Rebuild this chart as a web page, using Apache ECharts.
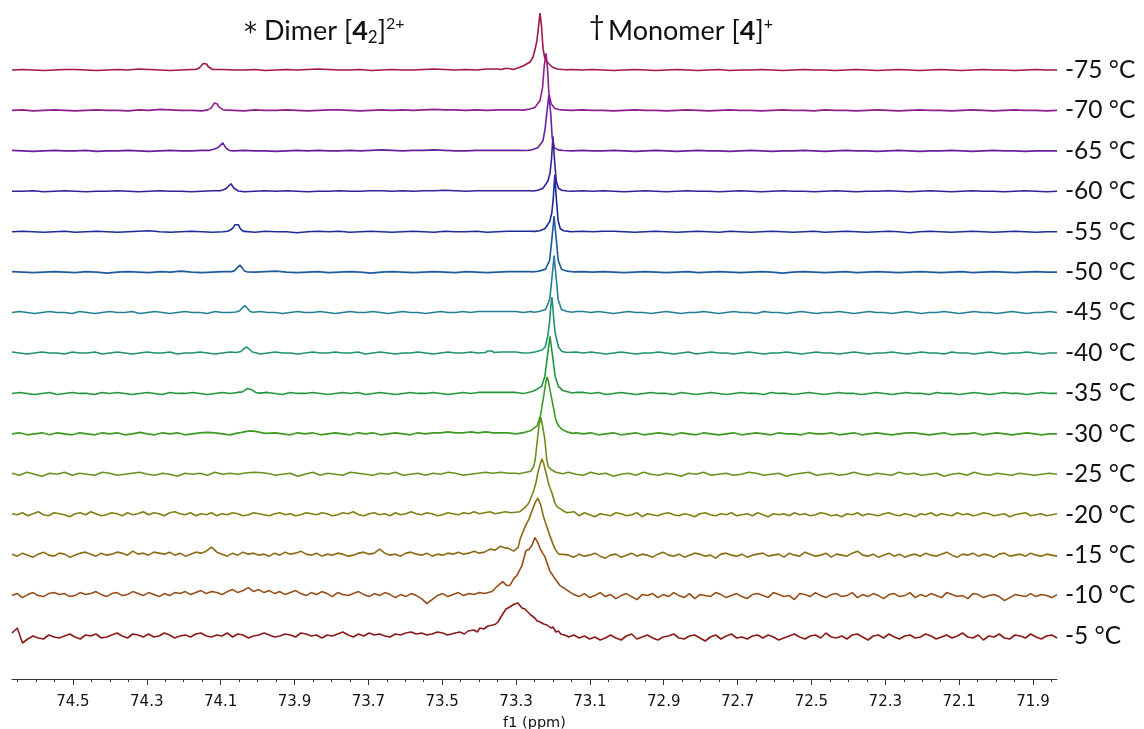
<!DOCTYPE html>
<html>
<head>
<meta charset="utf-8">
<script src="https://cdn.jsdelivr.net/npm/echarts@6/dist/echarts.min.js"></script>
<style>
  html, body { margin: 0; padding: 0; background: #ffffff; overflow: hidden; }
  #chart { width: 1144px; height: 729px; }
</style>
</head>
<body>
<div id="chart"></div>
<script>
// Variable-temperature NMR stack: traces listed from the warmest (-5 °C, bottom) to the coldest (-75 °C, top)
const temps = ['-5 °C', '-10 °C', '-15 °C', '-20 °C', '-25 °C', '-30 °C', '-35 °C', '-40 °C',
               '-45 °C', '-50 °C', '-55 °C', '-60 °C', '-65 °C', '-70 °C', '-75 °C'];

// chemical-shift window (ppm)
const ppmMin = 71.835;
const ppmMax = 74.665;

// labelled axis ticks (ppm)
const majorTicks = [74.5, 74.3, 74.1, 73.9, 73.7, 73.5, 73.3, 73.1, 72.9, 72.7, 72.5, 72.3, 72.1, 71.9];

// monomer [4]+ resonance position per trace (ppm)
const monoCenter = [73.295, 73.249, 73.241, 73.230, 73.233, 73.216, 73.208, 73.203,
                    73.197, 73.197, 73.195, 73.200, 73.211, 73.219, 73.235];
// dimer [4_2]2+ resonance position per trace (ppm), absent in the warm traces
const dimerCenter = [null, null, null, null, 74.007, 74.018, 74.023, 74.029,
                     74.034, 74.048, 74.056, 74.072, 74.094, 74.113, 74.142];

// monomer line shapes: [offset from centre (ppm), intensity]
const mono_m5 = [[0.190,1],[0.170,3],[0.157,4],[0.145,2],[0.135,5],[0.119,6],[0.110,4],[0.103,8],[0.092,7],[0.081,10],[0.068,11],[0.060,12],[0.054,14],[0.049,16],[0.041,22],[0.032,27],[0.022,29],[0.014,31],[0.008,32],[0,33],[-0.005,31],[-0.011,28],[-0.019,27],[-0.027,24],[-0.035,21],[-0.046,18],[-0.052,15],[-0.060,14],[-0.070,12],[-0.079,11],[-0.089,8],[-0.095,9],[-0.103,4],[-0.110,5],[-0.116,2],[-0.130,0.5]];
const mono_m10 = [[0.135,1],[0.116,4],[0.103,9],[0.087,14],[0.076,10],[0.068,10],[0.057,17],[0.049,20],[0.035,30],[0.024,45],[0.016,46],[0.008,50],[0,58],[-0.008,53],[-0.014,47],[-0.022,42],[-0.027,39],[-0.032,40],[-0.041,24],[-0.049,20],[-0.054,17],[-0.068,10],[-0.081,7],[-0.097,3]];
const mono_m15 = [[0.081,7],[0.065,4],[0.053,8],[0.048,16],[0.034,29],[0.024,36],[0.016,44],[0.008,52],[0,57],[-0.008,50],[-0.015,39],[-0.024,29],[-0.033,19],[-0.041,11],[-0.047,6],[-0.056,1],[-0.076,0.5]];
const mono_m20 = [[0.081,1],[0.060,3],[0.046,7],[0.035,12],[0.024,22],[0.016,32],[0.011,42],[0.005,50],[0,56],[-0.005,51],[-0.011,42],[-0.019,30],[-0.027,22],[-0.035,12],[-0.041,8],[-0.049,6],[-0.057,4],[-0.068,2]];
const mono_m25 = [[0.060,0.5],[0.046,1.5],[0.027,3],[0.019,8],[0.015,15],[0.009,35],[0.005,48],[0,57],[-0.005,48],[-0.011,35],[-0.016,15],[-0.020,8],[-0.027,5],[-0.041,2],[-0.060,0.5]];
const mono_m30 = [[0.076,0.5],[0.060,1.5],[0.045,3],[0.027,8],[0.018,18],[0.009,38],[0.004,50],[0,57],[-0.004,52],[-0.009,42],[-0.018,25],[-0.023,15],[-0.031,8],[-0.042,4],[-0.054,2],[-0.070,0.5]];
const mono_m35 = [[0.065,0.5],[0.049,2],[0.036,4],[0.023,7],[0.014,17],[0.007,37],[0,57],[-0.007,37],[-0.014,17],[-0.023,7],[-0.034,3],[-0.045,2],[-0.060,0.5]];
const mono_m40 = [[0.060,0.3],[0.046,1],[0.027,3],[0.018,6],[0.011,17],[0.006,32],[0.003,46],[0,56],[-0.003,44],[-0.006,30],[-0.009,20],[-0.018,6],[-0.027,1.5],[-0.041,0.5]];
const mono_m45 = [[0.054,0.3],[0.041,1],[0.023,3],[0.012,13],[0.007,30],[0.003,45],[0,57],[-0.003,45],[-0.007,30],[-0.011,13],[-0.020,3],[-0.035,1],[-0.050,0.3]];
const mono_m50 = [[0.054,0.3],[0.041,1],[0.023,3],[0.012,12],[0.007,29],[0.003,44],[0,56],[-0.003,44],[-0.007,29],[-0.011,12],[-0.020,3],[-0.035,1],[-0.050,0.3]];
const mono_m55 = [[0.054,0.3],[0.041,1],[0.027,3],[0.014,10],[0.008,19],[0.004,34],[0,57],[-0.004,34],[-0.009,11],[-0.015,3],[-0.024,1],[-0.038,0.3]];
const mono_m60 = [[0.054,0.3],[0.041,1],[0.027,3],[0.014,10],[0.008,18],[0.004,32],[0,55],[-0.004,32],[-0.009,10],[-0.015,3],[-0.024,1],[-0.038,0.3]];
const mono_m65 = [[0.060,0.3],[0.046,1],[0.030,3],[0.016,10],[0.010,23],[0.005,40],[0,56],[-0.005,37],[-0.009,13],[-0.015,3],[-0.025,1],[-0.040,0.3]];
const mono_m70 = [[0.060,0.3],[0.049,1],[0.030,3],[0.016,10],[0.009,23],[0.005,43],[0,57],[-0.004,43],[-0.008,17],[-0.014,7],[-0.024,2],[-0.040,0.5]];
const mono_m75 = [[0.081,0.5],[0.060,2],[0.046,4],[0.027,8],[0.019,13],[0.014,20],[0.009,28],[0.005,40],[0,57],[-0.004,44],[-0.008,22],[-0.012,13],[-0.019,8],[-0.033,3],[-0.046,1],[-0.068,0.3]];

// dimer line shapes: [offset from centre (ppm), intensity]
const dimer_m25 = [[0.040,0.5],[0.020,1.5],[0,2],[-0.020,1.5],[-0.040,0.5]];
const dimer_m30 = [[0.040,0.5],[0.025,1.5],[0.012,2.5],[0,3],[-0.012,2.5],[-0.025,1.5],[-0.040,0.5]];
const dimer_m35 = [[0.030,0.5],[0.018,1.5],[0.010,3.5],[0.004,5],[0,5],[-0.005,4],[-0.010,2.5],[-0.018,1],[-0.028,0.3]];
const dimer_m40 = [[0.028,0.5],[0.016,1.5],[0.009,4],[0.004,5.5],[0,6],[-0.004,5],[-0.009,3],[-0.015,1],[-0.024,0.3]];
const dimer_m45 = [[0.025,0.5],[0.015,1.5],[0.008,4.5],[0.004,6.5],[0,7],[-0.004,6],[-0.008,3.5],[-0.014,1],[-0.022,0.3]];
const dimer_m50 = [[0.022,0.5],[0.014,1.5],[0.008,4],[0.004,6],[0,7],[-0.004,6],[-0.008,3.5],[-0.013,1],[-0.020,0.3]];
const dimer_m55 = [[0.025,0.5],[0.016,2],[0.010,4],[0.005,7],[0,9],[-0.004,7],[-0.008,4],[-0.013,1.5],[-0.020,0.3]];
const dimer_m60 = [[0.030,0.5],[0.020,1.5],[0.012,3],[0.006,5.5],[0,7.5],[-0.004,6],[-0.008,3],[-0.013,1],[-0.020,0.3]];
const dimer_m65 = [[0.035,0.5],[0.025,1.5],[0.014,3],[0.008,5],[0.004,7],[0,8],[-0.004,6],[-0.008,3],[-0.012,1],[-0.018,0.3]];
const dimer_m70 = [[0.022,0.5],[0.014,2],[0.008,5],[0.004,7.5],[0,8],[-0.004,6.5],[-0.008,3.5],[-0.013,1.5],[-0.020,0.5]];
const dimer_m75 = [[0.025,0.5],[0.016,2],[0.010,4.5],[0.005,6.5],[0,7],[-0.004,6],[-0.008,3.5],[-0.013,1.5],[-0.020,0.5]];

// small extra signals: [ppm, intensity]
const extra_m40 = [[73.383,0.5],[73.376,2],[73.371,3],[73.366,2],[73.359,0.5]];
const extra_m75 = [[73.340,0.5],[73.330,1.5],[73.325,2],[73.318,1.5],[73.308,0.5]];

// baseline noise, evenly spread from ppmMax down to ppmMin
const noise_m5 = [3,8,-7,-3,0,-2,-3,1,-1,-2, 0,2,-1,-3,1,0,2,-2,-1,1, 3,0,-2,2,1,-1,2,-1,0,3, 1,-2,0,1,-1,2,3,0,-1,1,
  0,3,-1,2,1,-2,0,1,3,1, -1,0,2,1,-1,3,2,0,1,-2, 1,0,2,4,1,-1,2,0,3,1, 2,0,-1,2,1,3,4,2,3,1, 2,4,3,
  3,2,3,4,2,3,2,1,2,1,0,1,0,-1,0,1,0,-1,0,1,0,-1,0,
  -1,1,-2,0,-3,-1,-4,-2,1,-2, -4,0,2,-3,-1,1,-2,-4,-1,0, 2,-2,-3,0,1,-2,-5,-1,1,-3, 0,2,-2,-1,-3,0,1,-2,1,-1,
  -4,-2,0,2,-1,-3,0,1,-2,3, -1,-2,0,-3,1,2,-1,-4,0,1, -2,2,-1,-3,0,1,-2,-1,2,0, -3,-1,1,-2,0,3,-1,-2,1,-4,
  0,-1,2,-2,-3,1,0,-2,2,-1, -3,0,1,-2];
const noise_m10 = [0,2,-2,1,3,0,-1,2,3,1, 2,-1,0,3,1,2,4,1,-1,2, 3,0,1,4,2,0,3,1,-1,2, 0,3,2,4,1,3,5,2,4,3,
  1,4,6,3,5,8,4,6,3,5, 2,4,1,3,5,2,0,3,1,4, 2,-1,3,1,0,2,4,1,-1,2, 0,3,1,-2,1,-1,2,0,-3,-8, -4,0,2,-1,1,3,0,2,1,3,
  2,1,2,0,1,2,0,1,0,-1,0,1,0,-1,0,1,0,
  1,-1,2,-2,0,3,-1,1,-3,0, 2,-1,-4,1,0,2,-2,1,-1,3, 0,-2,2,-3,1,0,-1,3,1,-2, 0,2,-1,-3,1,2,0,-2,3,1,
  -1,0,-4,2,1,-1,3,0,-2,1, 2,-1,0,3,-2,1,-1,2,0,-3, 1,2,-1,0,3,-2,1,-1,2,0, -2,3,1,-1,0,-3,2,1,-2,0,
  1,-1,-5,-2,1,0,-1,2,-1,1, 0,-2,1];
const noise_m15 = [1,-1,2,0,-2,1,3,0,-1,2, 1,-2,0,2,3,1,-1,2,0,1, 3,2,0,4,1,2,0,3,2,1, 3,0,2,-1,1,3,2,4,8,3,
  1,-1,2,0,3,1,2,0,1,-1, 2,0,3,1,2,4,1,0,2,-1, 1,0,2,1,-1,0,2,3,1,2, 6,2,0,1,-1,2,3,1,0,2, -1,1,0,2,1,3,1,2,4,2, 3,6,5,9,7,
  6,5,4,3,2,1,0,1,0,1,0,
  0,-2,1,-1,0,2,-1,-3,0,1, -2,0,2,-1,1,0,-2,1,3,0, -1,1,-2,0,2,1,-1,0,-3,1, 2,0,-1,1,-2,0,1,2,-1,0,
  1,-2,2,0,-1,3,1,-1,0,2, -2,1,0,-1,2,4,0,-1,1,-2, 0,2,-1,1,-2,0,1,-1,2,0, -1,1,3,0,-2,1,0,2,-1,1,
  0,-2,1,2,-1,0,1,-1,2,0, -1,1,0,-1];
const noise_m20 = [1,0,2,-1,1,3,0,-1,2,1, 0,-2,1,2,0,3,1,-1,0,2, 1,-1,2,0,1,3,0,2,1,-1, 2,3,1,0,2,-1,1,0,2,-1,
  1,0,2,1,-1,0,2,1,0,-1, 1,2,0,1,-1,0,2,1,0,2, 1,-1,0,2,1,3,0,-1,1,2, 0,1,-1,2,0,1,3,1,0,2, 1,-1,0,2,1,0,2,1,3,1, 2,3,1,2,3,2,
  2,1,0,1,2,1,0,1,0,1,
  1,3,-1,2,0,-2,1,0,-1,2, 1,-1,0,2,-2,1,0,-1,1,2, 0,-1,1,0,-2,1,2,0,-1,1, 0,2,-1,0,1,-1,2,0,-2,1,
  0,1,-1,2,0,1,-1,0,2,1, -1,0,-2,1,0,2,-1,1,0,-1, 1,2,0,-1,1,0,-2,1,0,2, -1,1,0,-1,2,0,1,-1,0,2,
  1,-1,0,1,-2,0,1,2,-1,0, 1,-1,0,1];
const noise_m25 = [1,-1,2,0,-2,1,0,2,-1,1, 0,-1,2,1,-1,0,1,2,0,-1, 1,0,-2,1,0,1,-1,2,0,1, 0,2,1,2,1,-1,0,1,-2,0,
  2,-1,1,0,-1,2,1,0,-1,1, 0,2,-1,0,1,-1,1,0,2,1, -1,0,1,2,1,2,1,1,0,1,1,0,1,0,
  2,0,-1,2,0,1,-2,0,1,-1, 2,0,-1,1,0,-2,1,0,2,-1, 0,1,-1,0,2,1,-1,0,1,-2, 0,1,2,-1,0,1,-1,0,2,0,
  -1,1,0,-1,2,0,1,-1,0,1, -2,0,1,-1,2,0,-1,1,0,-1, 1,0,-1,0,1,0];
const noise_m30 = [0,1,-1,0,1,-1,1,0,-1,1, 0,-1,1,0,1,-1,0,1.5,0,-1, 1,0,1,-1,0,1,1.5,1,0,-1, 1,0,1,-1,0,1,0,-1,1,0,
  1,-1,0,1,0,-1,1,0,1,-1, 0,1,0,-1,1,0,1,1,2,1, 1,2,1,2,1,1,1,0,1,0,1,0,1,0,
  2,1,0,1,-1,0,1,-1,0,1, -1,0,1,0,-1,1,0,-1,1,0, -1,0,1,-1,0,1,0,-1,1,0, 0,-1,1,0,0,1,-1,0,1,-1,
  0,1,0,-1,0,1,1,0,-1,0, 1,-1,0,0,1,-1,0,1,0,-1, 0,1,0,-1,0,0];
const noise_m35 = [0,1,0,-1,0,1,-1,0,1,0, 0,-1,1,0,1,0,-1,0,1,0, -1,1,0,0,1,0,-1,0,1,0, 1,-1,0,0,1,0,-1,1,0,0,
  1,0,-1,0,1,0,1,-1,0,1, 0,-1,0,1,0,0,1,0,-1,0, 1,0,1,1,1,1,1,1,0,1,0,1,0,1,
  2,1,1,0,1,-1,0,1,0,-1, 0,1,0,0,-1,1,0,-1,0,1, 0,-1,0,1,0,0,-1,1,0,0, -1,0,1,0,-1,0,1,0,0,-1,
  0,1,0,-1,0,1,0,0,-1,1, 0,0,-1,0,1,0,-1,0,1,0, 0,-1,0,1,0,0];
const noise_m40 = [1,0,-1,0,1,0,0,-1,1,0, 0,1,-1,0,1,0,-1,0,1,0, 0,1,-1,0,0,1,0,-1,0,1, 0,0,1,-1,0,1,0,0,-1,0,
  1,0,0,1,0,0,1,-1,0,1, 0,-1,0,0,1,0,-1,0,1,0, 0,1,0,1,1,1,1,1,0,1,0,1,0,1,
  1,1,0,1,0,-1,0,1,0,-1, 0,0,1,0,-1,0,1,-1,0,1, 0,0,-1,0,1,0,-1,0,0,1, 0,-1,0,1,0,0,-1,0,1,0,
  -1,0,0,1,0,-1,0,1,0,0, -1,1,0,0,-1,0,1,0,-1,0, 0,1,0,-1,0,0];
const noise_m45 = [0,1,0,-1,0,1,0,0,-1,1, 0,-1,0,1,0,0,1,-1,0,1, 0,-1,0,1,0,0,-1,1,0,0, 1,-1,0,1,0,0,-1,0,1,0,
  0,1,0,-1,0,1,0,0,1,0, -1,0,1,0,0,-1,0,1,0,0, 1,0,1,1,1,1,1,1,0,1,0,1,0,1,
  1,1,1,0,1,0,-1,0,1,0, 0,-1,0,1,0,-1,0,0,1,0, -1,0,1,0,0,-1,1,0,0,-1, 0,1,0,-1,0,0,1,0,-1,0,
  1,0,0,-1,0,1,0,-1,0,0, 1,0,-1,0,1,0,0,-1,0,1, 0,-1,0,0,1,0];
const noise_m50 = [0.5,0,-0.5,0,0.5,0,-0.5,0.5,0,-1, 0,0.5,0,-0.5,0.5,0,1,0,-0.5,0, 0.5,0,-0.5,0,0.5,1,0,-0.5,0,0.5,
  -0.5,0,0.5,0,-1,0,0.5,0,-0.5,0, 0.5,0,-0.5,0.5,0,-0.5,0,0.5,0.5,0.5, 0.5,0,0.5,0,0.5,0,0.5,0,-0.5,0,
  0.5,0,-0.5,0,0.5,-0.5,0,0.5,0,-0.5, 0,0.5,0,-1,0,0.5,0,-0.5,0,0.5, -0.5,0,0.5,0,-0.5,0,0.5,0,-0.5,0,
  0.5,-0.5,0,0.5,0,-0.5,0,0.5,0,0];
const noise_m55 = [0,0.5,0,-0.5,0,0.5,-0.5,0,0.5,0, -0.5,0,0.5,1,0,-0.5,0,0.5,0,-0.5, 0,0.5,0,-0.5,0.5,0,0,-1,0,0.5,
  0,0.5,-0.5,0,0.5,0,-0.5,0,0.5,0, -0.5,0.5,0,0,0.5,-0.5,0,0.5,0.5,0.5, 0.5,0,0.5,0,0.5,0,0.5,0.5,0,-0.5,
  0,0.5,0,-0.5,0,0.5,0,-0.5,0.5,0, -0.5,0,0.5,0,-0.5,0,0.5,-0.5,0,0.5, 0,-0.5,0,0.5,0,-1,0,0.5,0,-0.5,
  0,0.5,0,-0.5,0,0.5,0,-0.5,0,0];
const noise_m60 = [0,0,0.5,-0.5,0,0.5,0,-0.5,0,0, 0.5,0,-0.5,0,0.5,0,0,-0.5,0,0.5, 0,0,-0.5,0,0.5,0,0.5,0,-0.5,0,
  0,0.5,0,0,0.5,0.5,0,0.5,0,0.5, 0.5,1,0.5,0,0.5,0.5,0.5,0.5,0.5,0.5, 0.5,0,0.5,0,0.5,0,0.5,0,-0.5,0,
  0.5,0,-0.5,0,0.5,0,0,-0.5,0,0.5, 0,-0.5,0,0.5,0,0,-0.5,0,0.5,0, -0.5,0,0,0.5,0,-0.5,0,0.5,0,-0.5,
  0,0.5,0,0,-0.5,0,0.5,0,-0.5,0];
const noise_m65 = [0.5,0,-0.5,0,0.5,0,0,0.5,-0.5,0, 0,0.5,0,-0.5,0,0.5,0,0,0.5,0, -0.5,0,0.5,0,0,-0.5,0,0.5,0,0.5,
  0,0,0.5,0,0.5,1,0.5,0,0.5,0.5, 1,0.5,0,0,0.5,0.5,0.5,0.5,0.5,0.5, 0.5,0,0.5,0,0.5,0,0,0.5,0,-0.5,
  0,0.5,0,-0.5,0,0.5,0,0,-0.5,0, 0.5,0,-0.5,0,0,0.5,0,-0.5,0,0.5, 0,0,-0.5,0,0.5,0,-0.5,0,0,0.5,
  0,-0.5,0,0.5,0,0,-0.5,0,0,0];
const noise_m70 = [0,0.5,-0.5,0,0.5,0,-0.5,0,0.5,0, 0,-0.5,0.5,0,1,0.5,0,0,-0.5,0, 0.5,0,-0.5,0.5,0,0,0.5,0,-0.5,0,
  0.5,0.5,0,-0.5,0,0.5,0,0.5,0,0.5, 1,0.5,0.5,0,0.5,0,0.5,0.5,0.5,0.5, 0.5,0,0.5,0,0.5,0,0,-0.5,0,0.5,
  0,0,-0.5,0,0.5,0,-0.5,0,0.5,0, 0,-0.5,0,0.5,0,0,-0.5,0.5,0,0, -0.5,0,0.5,0,-0.5,0,0.5,0,0,-0.5,
  0,0.5,0,-0.5,0,0.5,0,0,-0.5,0];
const noise_m75 = [0,0.5,0,-0.5,0,0.5,0.5,0,-0.5,0, 0.5,0,1,0.5,0,-0.5,0,0.5,0,-0.5, 0.5,0,0,0.5,-0.5,0,0.5,0,0.5,1,
  0.5,0,0,0.5,-0.5,0,0.5,0,0,0.5, 1,0.5,0,0.5,0,1,1,1,1.5,1.5, 0,0.5,0,0.5,0,0.5,0,-0.5,0,0.5,
  0,-0.5,0,0.5,0,-0.5,0,0.5,-0.5,0, 0,0.5,0,-0.5,0,0.5,0,0,-0.5,0, 0.5,0,-0.5,0,0.5,0,-0.5,0,0.5,0,
  -0.5,0,0.5,0,0,-0.5,0,0.5,0,0];

// line colours, warm (bottom) to cold (top)
const traceColors = ['#8b1a1a', '#964c16', '#8a6c14', '#7e8114', '#69901a', '#3d9a22', '#239540', '#1f9070',
                     '#267f98', '#1f5b9c', '#1c2c98', '#3a1d9a', '#6a1f9e', '#8e1f8e', '#a3134e'];

const noiseSets = [noise_m5, noise_m10, noise_m15, noise_m20, noise_m25, noise_m30, noise_m35, noise_m40,
                   noise_m45, noise_m50, noise_m55, noise_m60, noise_m65, noise_m70, noise_m75];
const monoSets = [mono_m5, mono_m10, mono_m15, mono_m20, mono_m25, mono_m30, mono_m35, mono_m40,
                  mono_m45, mono_m50, mono_m55, mono_m60, mono_m65, mono_m70, mono_m75];
const dimerSets = [null, null, null, null, dimer_m25, dimer_m30, dimer_m35, dimer_m40,
                   dimer_m45, dimer_m50, dimer_m55, dimer_m60, dimer_m65, dimer_m70, dimer_m75];
const extraSets = [null, null, null, null, null, null, null, extra_m40,
                   null, null, null, null, null, null, extra_m75];

// vertical separation between stacked traces (intensity units)
const spacing = 40.43;

// merge baseline noise with the resonance line shapes of one trace and lift it to its stack level
function buildTrace(k) {
  const groups = [];
  groups.push(monoSets[k].map(([d, h]) => [monoCenter[k] + d, h]));
  if (dimerSets[k]) groups.push(dimerSets[k].map(([d, h]) => [dimerCenter[k] + d, h]));
  if (extraSets[k]) groups.push(extraSets[k].map(p => [p[0], p[1]]));
  const windows = groups.map(g => {
    const xs = g.map(p => p[0]);
    return [Math.min(...xs), Math.max(...xs)];
  });
  const noise = noiseSets[k];
  const n = noise.length;
  const base = noise.map((v, i) => [ppmMax - i * (ppmMax - ppmMin) / (n - 1), v])
    .filter(p => !windows.some(w => p[0] >= w[0] && p[0] <= w[1]));
  const all = base.concat(...groups).sort((a, b) => b[0] - a[0]);
  return all.map(([x, y]) => [x, y + k * spacing]);
}

const series = temps.map((t, k) => ({
  name: t,
  type: 'line',
  data: buildTrace(k),
  showSymbol: false,
  symbol: 'none',
  smooth: false,
  lineStyle: { color: traceColors[k], width: 1.6 },
  silent: true,
  animation: false,
  z: 2
}));

// unlabelled ticks every 0.05 ppm
const minorTicks = [];
for (let v = 71.85; v <= 74.66; v += 0.05) minorTicks.push(Math.round(v * 100) / 100);

const baselineLevels = temps.map((t, k) => k * spacing);

const textRich = {
  m: { fontFamily: 'Lato', fontSize: 27, fill: '#111', lineHeight: 36, verticalAlign: 'middle' },
  star: { fontFamily: 'DejaVu Sans', fontSize: 26, fill: '#111', lineHeight: 36, verticalAlign: 'middle' },
  b: { fontFamily: 'Lato', fontSize: 27, fontWeight: 'bold', fill: '#111', lineHeight: 36, verticalAlign: 'middle' },
  sub: { fontFamily: 'Lato', fontSize: 17, fill: '#111', lineHeight: 36, verticalAlign: 'bottom', padding: [0, 0, 3, 0] },
  sup: { fontFamily: 'Lato', fontSize: 16, fill: '#111', lineHeight: 36, verticalAlign: 'top', padding: [3, 0, 0, 0] }
};

const chart = echarts.init(document.getElementById('chart'), null, { renderer: 'canvas' });
chart.setOption({
  backgroundColor: '#ffffff',
  animation: false,
  grid: { left: 12, right: 87, top: 0, bottom: 50, containLabel: false, outerBoundsMode: 'none' },
  xAxis: [
    {
      type: 'value', inverse: true, min: ppmMin, max: ppmMax, position: 'bottom',
      name: 'f1 (ppm)', nameLocation: 'middle', nameGap: 37,
      nameTextStyle: { fontFamily: 'DejaVu Sans', fontSize: 14.5, color: '#111' },
      axisLine: { show: true, onZero: false, lineStyle: { color: '#333', width: 1 } },
      axisTick: { show: true, customValues: majorTicks, length: 6, lineStyle: { color: '#333' } },
      axisLabel: {
        show: true, customValues: majorTicks, margin: 16,
        fontFamily: 'DejaVu Sans', fontSize: 15, color: '#111',
        formatter: v => v.toFixed(1)
      },
      splitLine: { show: false }
    },
    {
      type: 'value', inverse: true, min: ppmMin, max: ppmMax, position: 'bottom',
      axisLine: { show: false, onZero: false },
      axisTick: { show: true, customValues: minorTicks, length: 3, lineStyle: { color: '#333' } },
      axisLabel: { show: false },
      splitLine: { show: false }
    }
  ],
  yAxis: {
    type: 'value', min: -43, max: 636, position: 'right',
    axisLine: { show: false }, axisTick: { show: false }, splitLine: { show: false },
    axisLabel: {
      show: true, customValues: baselineLevels, margin: 8,
      fontFamily: 'Lato', fontSize: 24.5, color: '#111',
      formatter: v => temps[Math.round(v / spacing)]
    }
  },
  graphic: [
    { type: 'text', left: 244, top: 21, style: { text: '{star|*}', rich: textRich } },
    { type: 'text', left: 264, top: 13, style: { text: '{m|Dimer [}{b|4}{sub|2}{m|]}{sup|2+}', rich: textRich } },
    { type: 'text', left: 589, top: 13, style: { text: '{m|†}', rich: textRich } },
    { type: 'text', left: 608, top: 13, style: { text: '{m|Monomer [}{b|4}{m|]}{sup|+}', rich: textRich } }
  ],
  series: series
});
</script>
</body>
</html>
